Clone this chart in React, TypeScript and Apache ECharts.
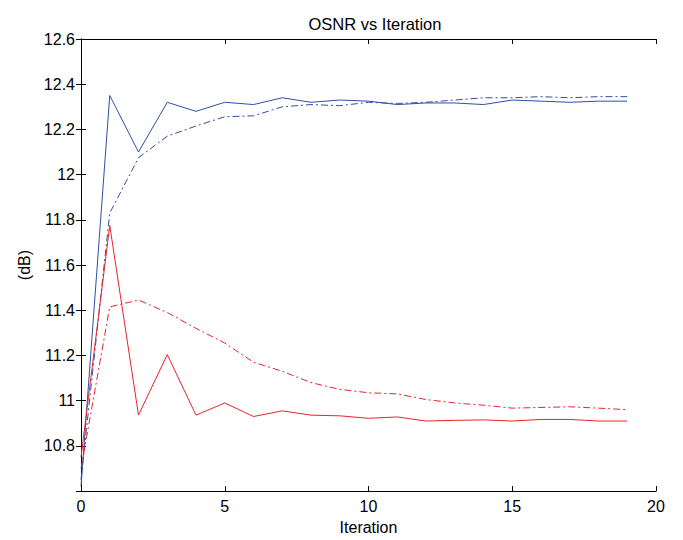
import React, { useEffect, useRef } from "react";
import * as echarts from "echarts";

const iterations = [0, 1, 2, 3, 4, 5, 6, 7, 8, 9, 10, 11, 12, 13, 14, 15, 16, 17, 18, 19];
const blueSolid = [10.62, 12.35, 12.1, 12.32, 12.28, 12.32, 12.31, 12.34, 12.32, 12.33, 12.325, 12.31, 12.317, 12.317, 12.31, 12.33, 12.325, 12.32, 12.325, 12.325];
const blueDashDot = [10.65, 11.83, 12.075, 12.17, 12.215, 12.256, 12.26, 12.3, 12.31, 12.305, 12.32, 12.315, 12.32, 12.33, 12.34, 12.34, 12.345, 12.34, 12.345, 12.345];
const redSolid = [10.75, 11.775, 10.936, 11.204, 10.936, 10.99, 10.93, 10.955, 10.936, 10.933, 10.922, 10.928, 10.91, 10.913, 10.915, 10.91, 10.917, 10.917, 10.91, 10.91];
const redDashDot = [10.7, 11.415, 11.445, 11.39, 11.32, 11.255, 11.17, 11.13, 11.08, 11.05, 11.035, 11.03, 11.005, 10.99, 10.98, 10.967, 10.97, 10.973, 10.967, 10.96];
const yTickLabels = ["10.8", "11", "11.2", "11.4", "11.6", "11.8", "12", "12.2", "12.4", "12.6"];
const xTickLabels = ["0", "5", "10", "15", "20"];

const BLUE = "#2f4fa6";
const RED = "#e8242a";
const FONT = "Liberation Sans, Arial, sans-serif";

export default function App() {
  const ref = useRef<HTMLDivElement>(null);
  useEffect(() => {
    if (!ref.current) return;
    const chart = echarts.init(ref.current, undefined, { renderer: "svg" });
    const pairs = (ys: number[]) => iterations.map((x, i) => [x, ys[i]]);
    const dashDot = [7, 3, 2, 3];
    const axisLine = { show: true, lineStyle: { color: "#000", width: 1 } };
    const axisTick = { show: true, inside: true, length: 5, lineStyle: { color: "#000", width: 1 } };
    chart.setOption({
      animation: false,
      backgroundColor: "#fff",
      title: {
        text: "OSNR vs Iteration",
        left: 370,
        top: 10,
        textAlign: "center",
        textStyle: { fontFamily: FONT, fontSize: 16.5, fontWeight: "normal", color: "#000" },
      },
      grid: { left: 81, right: 27, top: 39, bottom: 46, containLabel: false },
      xAxis: [
        {
          type: "value",
          min: 0,
          max: 20,
          interval: 5,
          position: "bottom",
          name: "Iteration",
          nameLocation: "middle",
          nameGap: 27,
          nameTextStyle: { fontFamily: FONT, fontSize: 16, color: "#000" },
          axisLine,
          axisTick,
          splitLine: { show: false },
          axisLabel: {
            fontFamily: FONT,
            fontSize: 16,
            color: "#000",
            margin: 7,
            formatter: (v: number) => (xTickLabels.includes(String(v)) ? String(v) : ""),
          },
        },
        {
          type: "value",
          min: 0,
          max: 20,
          interval: 5,
          position: "top",
          axisLine,
          axisTick,
          splitLine: { show: false },
          axisLabel: { show: false },
        },
      ],
      yAxis: [
        {
          type: "value",
          min: 10.6,
          max: 12.6,
          interval: 0.2,
          position: "left",
          name: "(dB)",
          nameLocation: "middle",
          nameGap: 45,
          nameRotate: 90,
          nameTextStyle: { fontFamily: FONT, fontSize: 16, color: "#000" },
          axisLine,
          axisTick,
          splitLine: { show: false },
          axisLabel: {
            fontFamily: FONT,
            fontSize: 16,
            color: "#000",
            margin: 6,
            formatter: (v: number) => {
              const s = String(Math.round(v * 10) / 10);
              return yTickLabels.includes(s) ? s : "";
            },
          },
        },
        {
          type: "value",
          min: 10.6,
          max: 12.6,
          interval: 0.2,
          position: "right",
          axisLine,
          axisTick,
          splitLine: { show: false },
          axisLabel: { show: false },
        },
      ],
      series: [
        { type: "line", data: pairs(blueSolid), symbol: "none", lineStyle: { color: BLUE, width: 1 } },
        { type: "line", data: pairs(blueDashDot), symbol: "none", lineStyle: { color: BLUE, width: 1, type: dashDot } },
        { type: "line", data: pairs(redSolid), symbol: "none", lineStyle: { color: RED, width: 1 } },
        { type: "line", data: pairs(redDashDot), symbol: "none", lineStyle: { color: RED, width: 1, type: dashDot } },
      ],
    });
    return () => chart.dispose();
  }, []);
  return <div ref={ref} style={{ width: 683, height: 540, position: "absolute", left: 0, top: 0 }} />;
}
